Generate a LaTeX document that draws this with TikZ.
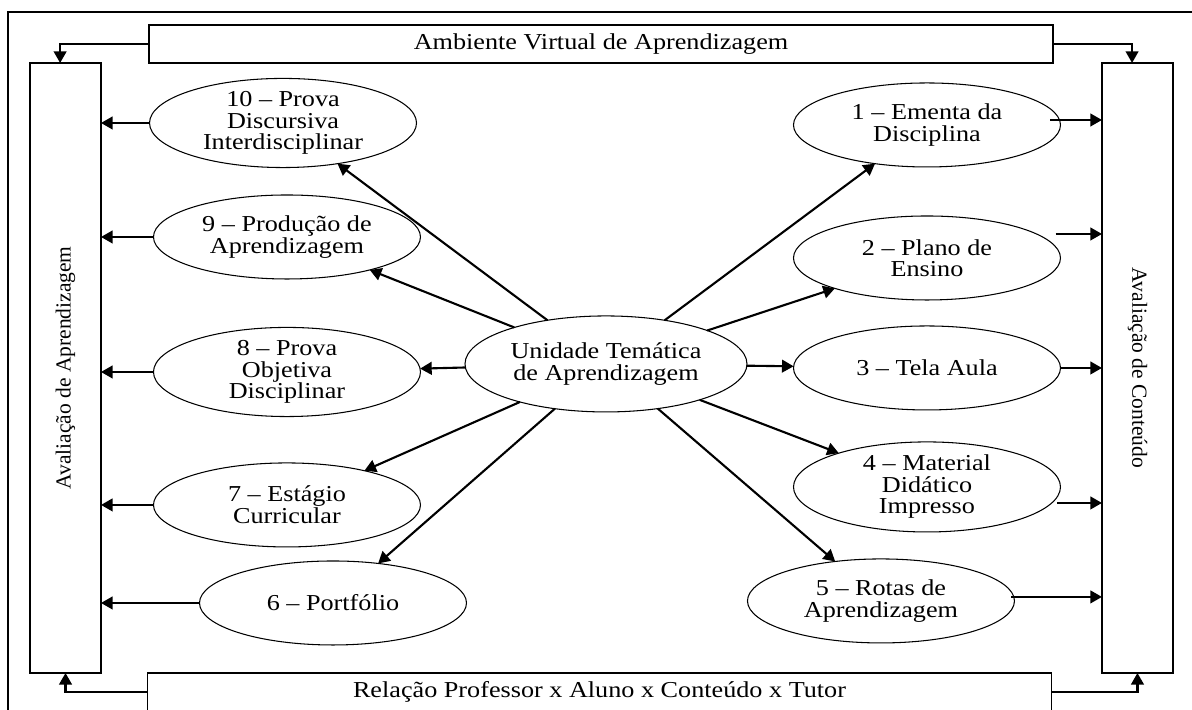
\documentclass[tikz,border=0pt]{standalone}
\usepackage{fontspec}
\setmainfont[FakeStretch=1.15]{Liberation Serif}
\newfontfamily\plainserif{Liberation Serif}
\usepackage{tikz}
\usetikzlibrary{arrows.meta,shapes.geometric}

\begin{document}
\begin{tikzpicture}[>={Triangle[length=5.5pt,width=6pt]},
    topic/.style={ellipse, draw, line width=0.5pt, minimum width=4.45cm, minimum height=1.4cm,
      inner sep=0pt, outer sep=0pt, align=center, font=\fontsize{10.8}{10.2}\selectfont},
    hub/.style={topic, minimum width=4.7cm, minimum height=1.6cm},
    band/.style={draw, line width=0.7pt, minimum width=15.07cm, minimum height=0.633cm,
      inner sep=0pt, outer sep=0pt, font=\fontsize{10.8}{10.2}\selectfont},
    column/.style={draw, line width=0.7pt, minimum width=1.183cm, minimum height=10.167cm,
      inner sep=0pt, outer sep=0pt},
    sidetext/.style={font=\plainserif\fontsize{10.2}{12}\selectfont},
    link/.style={->, line width=1pt}]

    \clip (0,0) rectangle (19.867,11.833);

    % moldura externa
    \draw[line width=0.7pt] (0.133,-0.2) -- (0.133,11.633) -- (20.2,11.633);

    % faixas e colunas
    \node[band] (amb) at (10.017,11.1) {Ambiente Virtual de Aprendizagem};
    \node[band] (rel) at (9.992,0.3) {Relação Professor x Aluno x Conteúdo x Tutor};
    \node[column] (aval) at (1.092,5.7) {};
    \node[column] (cont) at (18.958,5.7) {};
    \node[sidetext, rotate=90] (avaltxt) at (aval) {Avaliação de Aprendizagem};
    \node[sidetext, rotate=-90] (conttxt) at (cont) {Avaliação de Conteúdo};

    % setas das faixas
    \draw[link] (amb.west) -| ([xshift=-0.09cm]aval.north);
    \draw[link] (amb.east) -| ([xshift=-0.09cm]cont.north);
    \draw[link] (rel.west) -| (aval.south);
    \draw[link] (rel.east) -| (cont.south);

    % unidade central
    \node[hub] (uta) at (10.1,5.767) {Unidade Temática\\de Aprendizagem};

    % elipses da direita
    \node[topic] (e1) at (15.45,9.75) {1 -- Ementa da\\Disciplina};
    \node[topic] (e2) at (15.45,7.533) {2 -- Plano de\\Ensino};
    \node[topic] (e3) at (15.45,5.7) {3 -- Tela Aula};
    \node[topic] (e4) at (15.45,3.717) {4 -- Material\\Didático\\Impresso};
    \node[topic] (e5) at (14.683,1.817) {5 -- Rotas de\\Aprendizagem};

    % elipses da esquerda
    \node[topic] (e6) at (5.55,1.783) {6 -- Portfólio};
    \node[topic] (e7) at (4.783,3.417) {7 -- Estágio\\Curricular};
    \node[topic] (e8) at (4.783,5.633) {8 -- Prova\\Objetiva\\Disciplinar};
    \node[topic] (e9) at (4.783,7.883) {9 -- Produção de\\Aprendizagem};
    \node[topic] (e10) at (4.717,9.783) {10 -- Prova\\Discursiva\\Interdisciplinar};

    % setas radiais
    \draw[link] (uta) -- (e1);
    \draw[link] (uta) -- (e2);
    \draw[link] (uta) -- (e3);
    \draw[link] (uta) -- (e4);
    \draw[link] (uta) -- (e5);
    \draw[link] (uta) -- (e6);
    \draw[link] (uta) -- (e7);
    \draw[link] (uta) -- (e8);
    \draw[link] (uta) -- (e9);
    \draw[link] (uta) -- (e10);

    % setas para a avaliação de aprendizagem
    \draw[link] (e6.west) -- (e6.west -| aval.east);
    \draw[link] (e7.west) -- (e7.west -| aval.east);
    \draw[link] (e8.west) -- (e8.west -| aval.east);
    \draw[link] (e9.west) -- (e9.west -| aval.east);
    \draw[link] (e10.west) -- (e10.west -| aval.east);

    % setas para a avaliação de conteúdo
    \coordinate (s1) at ([shift={(-0.167,0.083)}]e1.east);
    \coordinate (s2) at ([shift={(-0.083,0.4)}]e2.east);
    \coordinate (s3) at (e3.east);
    \coordinate (s4) at ([shift={(-0.05,-0.267)}]e4.east);
    \coordinate (s5) at ([shift={(-0.05,0.067)}]e5.east);
    \draw[link] (s1) -- (s1 -| cont.west);
    \draw[link] (s2) -- (s2 -| cont.west);
    \draw[link] (s3) -- (s3 -| cont.west);
    \draw[link] (s4) -- (s4 -| cont.west);
    \draw[link] (s5) -- (s5 -| cont.west);
\end{tikzpicture}
\end{document}
